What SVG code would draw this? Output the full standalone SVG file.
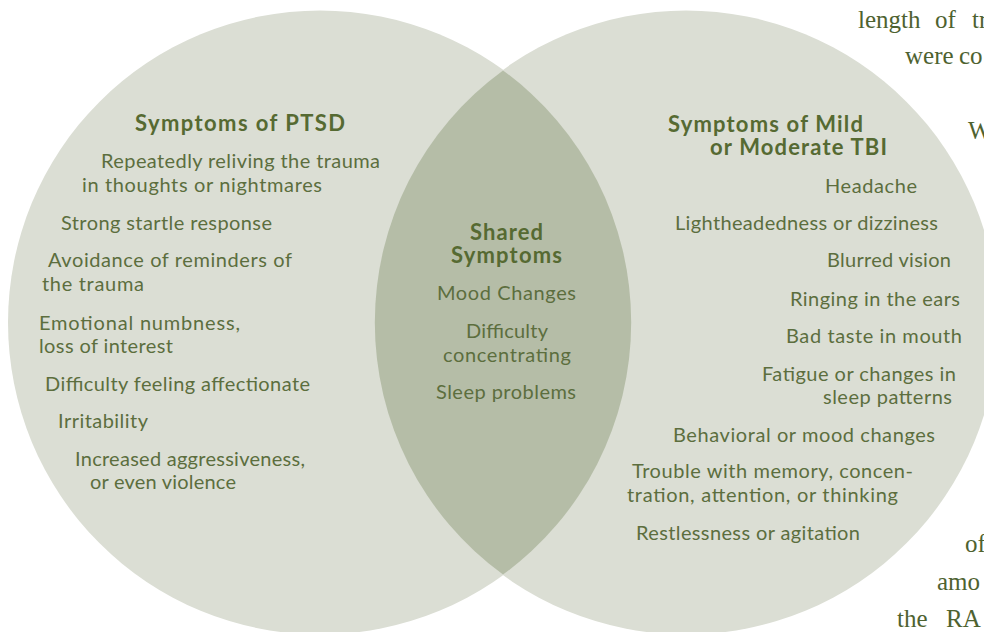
<svg xmlns="http://www.w3.org/2000/svg" width="984" height="632" viewBox="0 0 984 632">
<style>
.bg{font-family:"Liberation Serif",serif;font-size:25px;fill:#4e6230}
.t{font-family:Lato,"Noto Sans",sans-serif;font-size:20px;fill:#5c6e3e}
.h{font-family:Lato,"Noto Sans",sans-serif;font-size:22px;font-weight:bold;fill:#566a32}
</style>
<rect width="984" height="632" fill="#ffffff"/>
<g id="page-text">
<text class="bg" x="858" y="28">length</text>
<text class="bg" x="935" y="28">of</text>
<text class="bg" x="972" y="28">tr</text>
<text class="bg" x="905" y="64">were</text>
<text class="bg" x="959" y="64">co</text>
<text class="bg" x="968" y="139">W</text>
<text class="bg" x="965" y="552">of</text>
<text class="bg" x="937" y="590">amo</text>
<text class="bg" x="897" y="627">the</text>
<text class="bg" x="946" y="627">RA</text>
</g>
<g id="ptsd">
<circle cx="320" cy="322.5" r="312" fill="#dbded4"/>
</g>
<g id="tbi">
<circle cx="686" cy="322.5" r="312" fill="#dbded4"/>
</g>
<g id="shared">
<path d="M503 70.4 A312 312 0 0 1 503 574.6 A312 312 0 0 1 503 70.4 Z" fill="#b5bda7"/>
</g>
<g id="ptsd-text">
<text class="h" x="135" y="131" textLength="210">Symptoms of PTSD</text>
<text class="t" x="101" y="168" textLength="279">Repeatedly reliving the trauma</text>
<text class="t" x="82" y="192" textLength="240">in thoughts or nightmares</text>
<text class="t" x="61" y="230" textLength="211">Strong startle response</text>
<text class="t" x="48" y="267" textLength="244">Avoidance of reminders of</text>
<text class="t" x="42" y="291" textLength="102">the trauma</text>
<text class="t" x="39" y="330" textLength="201">Emotional numbness,</text>
<text class="t" x="39" y="353" textLength="134">loss of interest</text>
<text class="t" x="45" y="391" textLength="265">Difficulty feeling affectionate</text>
<text class="t" x="58" y="428" textLength="90">Irritability</text>
<text class="t" x="75" y="466" textLength="230">Increased aggressiveness,</text>
<text class="t" x="90" y="489" textLength="146">or even violence</text>
</g>
<g id="shared-text">
<text class="h" x="470" y="240" textLength="73">Shared</text>
<text class="h" x="451" y="263" textLength="111">Symptoms</text>
<text class="t" x="437" y="300" textLength="139">Mood Changes</text>
<text class="t" x="466" y="338" textLength="82">Difficulty</text>
<text class="t" x="443" y="362" textLength="128">concentrating</text>
<text class="t" x="436" y="399" textLength="140">Sleep problems</text>
</g>
<g id="tbi-text">
<text class="h" x="668" y="132" textLength="195">Symptoms of Mild</text>
<text class="h" x="710" y="155" textLength="177">or Moderate TBI</text>
<text class="t" x="825" y="193" textLength="92">Headache</text>
<text class="t" x="675" y="230" textLength="263">Lightheadedness or dizziness</text>
<text class="t" x="827" y="267" textLength="124">Blurred vision</text>
<text class="t" x="790" y="306" textLength="170">Ringing in the ears</text>
<text class="t" x="786" y="343" textLength="176">Bad taste in mouth</text>
<text class="t" x="762" y="381" textLength="194">Fatigue or changes in</text>
<text class="t" x="823" y="404" textLength="129">sleep patterns</text>
<text class="t" x="673" y="442" textLength="262">Behavioral or mood changes</text>
<text class="t" x="632" y="478" textLength="281">Trouble with memory, concen-</text>
<text class="t" x="627" y="502" textLength="271">tration, attention, or thinking</text>
<text class="t" x="636" y="540" textLength="224">Restlessness or agitation</text>
</g>
<g id="connectors"></g>
</svg>
